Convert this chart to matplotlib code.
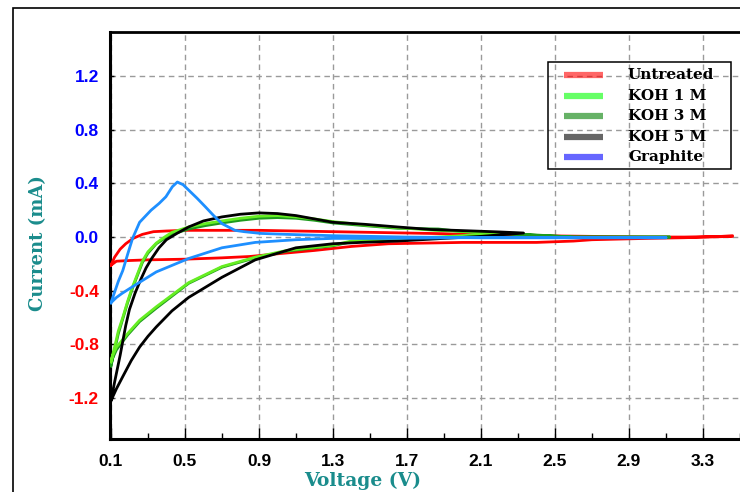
import matplotlib
matplotlib.use("Agg")
import matplotlib.pyplot as plt
from matplotlib.lines import Line2D
from matplotlib.patches import Rectangle

# ---- cyclic voltammetry data (forward scan then reverse scan) ----
untreated_v_fwd = [0.10, 0.12, 0.15, 0.18, 0.22, 0.27, 0.33, 0.40, 0.50, 0.70, 0.90, 1.10, 1.30, 1.50, 1.70, 1.90, 2.10, 2.40, 2.70, 3.00, 3.20, 3.40, 3.46]
untreated_i_fwd = [-0.21, -0.15, -0.09, -0.05, -0.01, 0.02, 0.04, 0.045, 0.05, 0.05, 0.05, 0.045, 0.04, 0.035, 0.03, 0.025, 0.015, 0.01, 0.005, 0.0, 0.0, 0.005, 0.01]
untreated_v_rev = [3.46, 3.20, 3.00, 2.85, 2.70, 2.60, 2.50, 2.40, 2.20, 2.00, 1.80, 1.60, 1.40, 1.20, 1.00, 0.85, 0.70, 0.50, 0.30, 0.20, 0.13, 0.10]
untreated_i_rev = [0.005, -0.005, -0.01, -0.015, -0.02, -0.03, -0.035, -0.04, -0.04, -0.04, -0.045, -0.05, -0.07, -0.10, -0.125, -0.145, -0.155, -0.165, -0.17, -0.175, -0.18, -0.21]

koh1_v_fwd = [0.10, 0.12, 0.14, 0.164, 0.19, 0.217, 0.245, 0.27, 0.30, 0.345, 0.39, 0.43, 0.52, 0.61, 0.70, 0.80, 0.90, 1.00, 1.10, 1.20, 1.30, 1.47, 1.65, 1.85, 2.00, 2.20]
koh1_i_fwd = [-0.93, -0.82, -0.70, -0.60, -0.48, -0.37, -0.27, -0.18, -0.11, -0.045, 0.0, 0.035, 0.075, 0.10, 0.12, 0.14, 0.155, 0.16, 0.15, 0.135, 0.115, 0.09, 0.07, 0.05, 0.042, 0.032]
koh1_v_rev = [2.20, 2.00, 1.80, 1.60, 1.40, 1.30, 1.05, 0.88, 0.70, 0.52, 0.345, 0.255, 0.19, 0.13, 0.11, 0.10]
koh1_i_rev = [0.032, 0.01, -0.005, -0.015, -0.03, -0.06, -0.10, -0.15, -0.22, -0.34, -0.52, -0.62, -0.72, -0.82, -0.88, -0.93]

koh3_v_fwd = [0.10, 0.12, 0.14, 0.164, 0.19, 0.217, 0.245, 0.27, 0.30, 0.345, 0.39, 0.43, 0.52, 0.61, 0.70, 0.80, 0.90, 1.00, 1.10, 1.20, 1.30, 1.47, 1.65, 1.87, 2.00, 2.20, 2.60, 3.12]
koh3_i_fwd = [-0.96, -0.84, -0.72, -0.61, -0.49, -0.38, -0.28, -0.19, -0.12, -0.05, -0.01, 0.02, 0.06, 0.085, 0.105, 0.125, 0.14, 0.145, 0.14, 0.125, 0.105, 0.085, 0.065, 0.06, 0.04, 0.03, 0.0, 0.0]
koh3_v_rev = [3.12, 2.60, 2.20, 2.00, 1.80, 1.60, 1.40, 1.30, 1.05, 0.88, 0.70, 0.52, 0.345, 0.255, 0.19, 0.13, 0.11, 0.10]
koh3_i_rev = [0.0, 0.0, 0.025, 0.005, -0.01, -0.02, -0.035, -0.065, -0.105, -0.155, -0.225, -0.345, -0.53, -0.63, -0.73, -0.84, -0.90, -0.96]

koh5_v_fwd = [0.10, 0.12, 0.15, 0.18, 0.20, 0.23, 0.26, 0.29, 0.32, 0.36, 0.40, 0.46, 0.52, 0.60, 0.70, 0.80, 0.90, 1.00, 1.10, 1.20, 1.30, 1.47, 1.65, 1.83, 2.00, 2.20, 2.33]
koh5_i_fwd = [-1.22, -1.08, -0.88, -0.66, -0.54, -0.42, -0.32, -0.23, -0.16, -0.08, -0.02, 0.03, 0.075, 0.12, 0.15, 0.17, 0.18, 0.175, 0.16, 0.135, 0.11, 0.095, 0.075, 0.056, 0.048, 0.038, 0.03]
koh5_v_rev = [2.33, 2.10, 1.90, 1.65, 1.45, 1.30, 1.10, 0.88, 0.70, 0.52, 0.43, 0.345, 0.30, 0.255, 0.21, 0.164, 0.13, 0.11, 0.10]
koh5_i_rev = [0.03, 0.005, -0.01, -0.03, -0.04, -0.05, -0.08, -0.17, -0.30, -0.45, -0.55, -0.67, -0.74, -0.82, -0.92, -1.04, -1.13, -1.19, -1.22]

graphite_v_fwd = [0.10, 0.12, 0.14, 0.164, 0.19, 0.217, 0.255, 0.317, 0.36, 0.397, 0.432, 0.459, 0.49, 0.52, 0.565, 0.61, 0.655, 0.70, 0.77, 0.82, 0.91, 1.05, 1.30, 1.70, 2.10, 2.50, 2.90, 3.10]
graphite_i_fwd = [-0.49, -0.41, -0.33, -0.25, -0.13, -0.01, 0.11, 0.20, 0.25, 0.30, 0.375, 0.41, 0.39, 0.35, 0.29, 0.226, 0.16, 0.10, 0.05, 0.04, 0.027, 0.02, 0.01, 0.0, -0.005, -0.005, -0.005, -0.005]
graphite_v_rev = [3.10, 2.50, 2.00, 1.60, 1.30, 1.10, 0.88, 0.70, 0.52, 0.345, 0.217, 0.16, 0.13, 0.10]
graphite_i_rev = [-0.005, -0.005, -0.005, -0.01, -0.01, -0.02, -0.04, -0.08, -0.16, -0.26, -0.37, -0.42, -0.45, -0.49]

series_names = ["Untreated", "KOH 1 M", "KOH 3 M", "KOH 5 M", "Graphite"]
series_colors = ["#ff0000", "#66ee22", "#1e9a1e", "#000000", "#1e8fff"]
legend_colors = ["red", "lime", "green", "black", "blue"]

x_ticks = [0.1, 0.5, 0.9, 1.3, 1.7, 2.1, 2.5, 2.9, 3.3]
y_ticks = [-1.2, -0.8, -0.4, 0.0, 0.4, 0.8, 1.2]

curves = [
    (untreated_v_fwd + untreated_v_rev, untreated_i_fwd + untreated_i_rev),
    (koh3_v_fwd + koh3_v_rev, koh3_i_fwd + koh3_i_rev),
    (koh1_v_fwd + koh1_v_rev, koh1_i_fwd + koh1_i_rev),
    (koh5_v_fwd + koh5_v_rev, koh5_i_fwd + koh5_i_rev),
    (graphite_v_fwd + graphite_v_rev, graphite_i_fwd + graphite_i_rev),
]
curve_colors = [series_colors[0], series_colors[2], series_colors[1], series_colors[3], series_colors[4]]

W, H = 740, 492
fig = plt.figure(figsize=(W / 100, H / 100), dpi=100)
fig.patch.set_facecolor("white")

# outer border of the panel
fig.add_artist(Rectangle((13 / W, -0.1), 1.2, 1 - 8 / H + 0.1, transform=fig.transFigure,
                         fill=False, ec="black", lw=1.2, clip_on=False))

ax = fig.add_axes([110 / W, (H - 439) / H, (W - 110) / W, (439 - 32) / H])
ax.set_xlim(0.095, 3.455)
ax.set_ylim(-1.505, 1.528)

for (v, i), c in zip(curves, curve_colors):
    ax.plot(v, i, color=c, lw=2.0, solid_joinstyle="round", zorder=3)

ax.set_xticks(x_ticks)
ax.set_xticks([t + 0.2 for t in x_ticks], minor=True)
ax.set_yticks(y_ticks)
ax.set_xticklabels([f"{t:.1f}" for t in x_ticks])
ax.set_yticklabels([f"{t:.1f}" for t in y_ticks])

ax.grid(True, which="major", color="#9a9a9a", ls=(0, (4, 3)), lw=1.0, zorder=1)

ax.tick_params(axis="x", which="major", direction="in", length=8, width=1, pad=11)
ax.tick_params(axis="x", which="minor", direction="in", length=4, width=1)
ax.tick_params(axis="y", which="major", direction="in", length=3, width=1, pad=8)

for lbl in ax.get_xticklabels():
    lbl.set_fontfamily(["Liberation Sans", "DejaVu Sans"])
    lbl.set_fontweight("bold")
    lbl.set_fontsize(12.5)
for lbl, t in zip(ax.get_yticklabels(), y_ticks):
    lbl.set_fontfamily(["Liberation Sans", "DejaVu Sans"])
    lbl.set_fontweight("bold")
    lbl.set_fontsize(12.5)
    lbl.set_color("#0000ff" if t >= 0 else "#ff0000")

for side in ("left", "bottom"):
    ax.spines[side].set_linewidth(2.2)
ax.spines["top"].set_linewidth(2.0)
ax.spines["right"].set_visible(False)

teal = "#1a8c8c"
fig.text(363 / W, 1 - 481 / H, "Voltage (V)", ha="center", va="center", color=teal,
         fontsize=13.5, fontweight="bold", family=["DejaVu Serif"])
fig.text(38 / W, 1 - 243 / H, "Current (mA)", ha="center", va="center", rotation=90,
         color=teal, fontsize=13, fontweight="bold", family=["DejaVu Serif"])

# legend box
fig.add_artist(Rectangle((548 / W, 1 - 169 / H), (731 - 548) / W, (169 - 62) / H,
                         transform=fig.transFigure, fill=False, ec="black", lw=1.1))
row_y = [75, 96, 116, 137, 157]
for name, c, py in zip(series_names, legend_colors, row_y):
    y = 1 - py / H
    fig.add_artist(Line2D([564 / W, 603 / W], [y, y], transform=fig.transFigure,
                          color=c, alpha=0.6, lw=4.5, solid_capstyle="butt"))
    fig.text(628 / W, y, name, ha="left", va="center", fontsize=11, fontweight="bold",
             family=["DejaVu Serif"], color="black")

fig.savefig("out.png", dpi=100)
